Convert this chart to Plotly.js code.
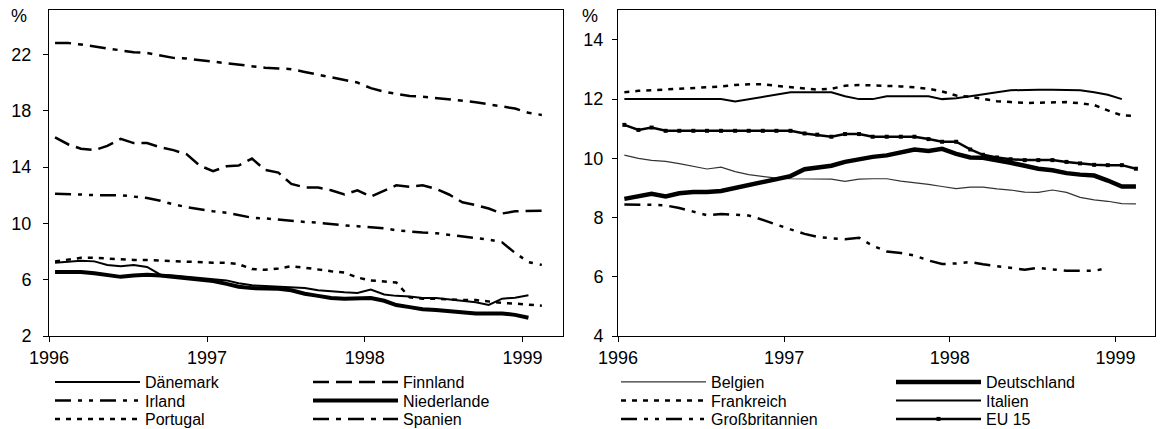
<!DOCTYPE html>
<html>
<head>
<meta charset="utf-8">
<script src="https://cdn.plot.ly/plotly-3.0.1.min.js"></script>
<style>
html, body { margin: 0; padding: 0; background: #ffffff; }
#chart { width: 1160px; height: 429px; }
</style>
</head>
<body>
<div id="chart"></div>
<script>
// Monthly observations, January 1996 to February 1999
const months = ["1996-01","1996-02","1996-03","1996-04","1996-05","1996-06","1996-07","1996-08","1996-09","1996-10","1996-11","1996-12",
  "1997-01","1997-02","1997-03","1997-04","1997-05","1997-06","1997-07","1997-08","1997-09","1997-10","1997-11","1997-12",
  "1998-01","1998-02","1998-03","1998-04","1998-05","1998-06","1998-07","1998-08","1998-09","1998-10","1998-11","1998-12",
  "1999-01","1999-02"];

// Left panel (%)
const daenemark   = [7.2, 7.3, 7.35, 7.3, 7.05, 6.95, 7.05, 6.9, 6.35, 6.3, 6.2, 6.1, 6.05, 5.95, 5.75, 5.6, 5.55, 5.5, 5.5, 5.4, 5.25, 5.15, 5.1, 5.05, 5.3, 4.95, 4.85, 4.8, 4.7, 4.7, 4.6, 4.5, 4.4, 4.2, 4.65, 4.72, 4.9];
const finnland    = [16.1, 15.6, 15.3, 15.2, 15.5, 16.0, 15.7, 15.7, 15.4, 15.2, 14.9, 14.1, 13.7, 14.05, 14.1, 14.6, 13.8, 13.6, 12.8, 12.55, 12.55, 12.35, 12.05, 12.35, 11.9, 12.3, 12.7, 12.6, 12.7, 12.45, 12.05, 11.5, 11.3, 11.05, 10.7, 10.85, 10.9, 10.9];
const irland      = [12.1, 12.1, 12.05, 12.0, 12.0, 12.0, 11.9, 11.8, 11.6, 11.35, 11.15, 11.0, 10.85, 10.75, 10.6, 10.4, 10.35, 10.25, 10.2, 10.1, 10.05, 9.95, 9.85, 9.8, 9.75, 9.65, 9.5, 9.4, 9.35, 9.3, 9.2, 9.1, 9.0, 8.85, 8.65, 7.9, 7.25, 7.05];
const niederlande = [6.55, 6.55, 6.55, 6.45, 6.3, 6.2, 6.3, 6.35, 6.3, 6.2, 6.1, 6.0, 5.9, 5.7, 5.5, 5.4, 5.4, 5.35, 5.25, 5.0, 4.85, 4.7, 4.65, 4.7, 4.7, 4.5, 4.2, 4.05, 3.9, 3.85, 3.75, 3.7, 3.6, 3.6, 3.6, 3.5, 3.3];
const portugal    = [7.3, 7.45, 7.55, 7.55, 7.5, 7.45, 7.4, 7.4, 7.35, 7.3, 7.3, 7.25, 7.2, 7.2, 7.1, 6.75, 6.7, 6.8, 6.95, 6.85, 6.7, 6.6, 6.5, 6.15, 5.95, 5.85, 5.8, 4.75, 4.65, 4.65, 4.6, 4.55, 4.55, 4.45, 4.35, 4.3, 4.25, 4.15];
const spanien     = [22.8, 22.8, 22.7, 22.55, 22.4, 22.25, 22.15, 22.1, 21.9, 21.75, 21.7, 21.6, 21.5, 21.4, 21.3, 21.15, 21.05, 21.0, 20.95, 20.75, 20.55, 20.35, 20.2, 20.0, 19.6, 19.35, 19.2, 19.05, 19.0, 18.9, 18.8, 18.7, 18.6, 18.45, 18.3, 18.15, 17.85, 17.7];

// Right panel (%)
const belgien        = [10.11, 10.0, 9.93, 9.9, 9.82, 9.72, 9.64, 9.7, 9.55, 9.45, 9.38, 9.33, 9.31, 9.31, 9.31, 9.3, 9.22, 9.3, 9.31, 9.31, 9.23, 9.18, 9.12, 9.05, 8.98, 9.03, 9.03, 8.97, 8.93, 8.86, 8.85, 8.93, 8.85, 8.68, 8.6, 8.55, 8.47, 8.46];
const deutschland    = [8.63, 8.72, 8.8, 8.71, 8.82, 8.86, 8.86, 8.9, 9.0, 9.1, 9.2, 9.3, 9.4, 9.63, 9.67, 9.75, 9.88, 9.98, 10.05, 10.1, 10.2, 10.3, 10.25, 10.32, 10.15, 10.03, 10.02, 9.95, 9.85, 9.75, 9.65, 9.6, 9.5, 9.45, 9.42, 9.25, 9.05, 9.05];
const frankreich     = [12.23, 12.28, 12.3, 12.32, 12.34, 12.36, 12.4, 12.43, 12.48, 12.5, 12.5, 12.45, 12.4, 12.35, 12.32, 12.35, 12.45, 12.48, 12.47, 12.45, 12.43, 12.4, 12.35, 12.26, 12.12, 12.08, 12.0, 11.93, 11.9, 11.87, 11.88, 11.9, 11.9, 11.86, 11.8, 11.62, 11.45, 11.43];
const italien        = [12.0, 12.0, 12.0, 12.0, 12.0, 12.0, 12.0, 12.0, 11.92, 12.0, 12.07, 12.15, 12.23, 12.23, 12.23, 12.23, 12.1, 12.0, 12.0, 12.1, 12.1, 12.1, 12.1, 12.0, 12.03, 12.1, 12.15, 12.23, 12.3, 12.32, 12.32, 12.32, 12.32, 12.3, 12.23, 12.15, 12.0];
const grossbritannien= [8.44, 8.44, 8.43, 8.41, 8.32, 8.2, 8.08, 8.12, 8.1, 8.07, 7.92, 7.75, 7.6, 7.45, 7.35, 7.3, 7.27, 7.32, 7.05, 6.85, 6.8, 6.72, 6.55, 6.43, 6.45, 6.5, 6.42, 6.36, 6.3, 6.24, 6.3, 6.24, 6.2, 6.2, 6.2, 6.3];
const eu15           = [11.13, 10.96, 11.04, 10.93, 10.93, 10.93, 10.93, 10.93, 10.93, 10.93, 10.93, 10.93, 10.93, 10.84, 10.8, 10.73, 10.82, 10.82, 10.73, 10.73, 10.73, 10.73, 10.65, 10.56, 10.56, 10.3, 10.12, 10.03, 9.97, 9.94, 9.94, 9.94, 9.88, 9.83, 9.78, 9.77, 9.77, 9.65];

const yearTicks = ["1996", "1997", "1998", "1999"];
const leftYTicks = [2, 6, 10, 14, 18, 22];
const rightYTicks = [4, 6, 8, 10, 12, 14];

const FONT = "Liberation Sans, Arial, Helvetica, sans-serif";
const BLACK = "#000000";
const xs = months.map(m => m + "-15");

function tr(name, vals, axis, legend, line, extra) {
  const t = {
    type: "scatter", mode: "lines", name: name,
    x: xs.slice(0, vals.length), y: vals,
    xaxis: axis === 1 ? "x" : "x2", yaxis: axis === 1 ? "y" : "y2",
    legend: legend,
    line: Object.assign({color: BLACK, shape: "linear"}, line),
    hoverinfo: "skip"
  };
  return Object.assign(t, extra || {});
}

const DASH_LONG = "16px,7px";
const DASH_SHORT = "5px,6px";
const DASH_IRL = "16px,7px,4px,7px,4px,7px";
const DASH_ESP = "16px,7px,5px,7px";

const data = [
  tr("Dänemark", daenemark, 1, "legend", {width: 2}),
  tr("Finnland", finnland, 1, "legend", {width: 2.5, dash: DASH_LONG}),
  tr("Irland", irland, 1, "legend2", {width: 2.5, dash: DASH_IRL}),
  tr("Niederlande", niederlande, 1, "legend2", {width: 4}),
  tr("Portugal", portugal, 1, "legend3", {width: 2.5, dash: DASH_SHORT}),
  tr("Spanien", spanien, 1, "legend3", {width: 2.5, dash: DASH_ESP}),

  tr("Belgien", belgien, 2, "legend4", {width: 1.2, color: "#333333"}),
  tr("Deutschland", deutschland, 2, "legend4", {width: 4.5}),
  tr("Frankreich", frankreich, 2, "legend5", {width: 2.5, dash: DASH_SHORT}),
  tr("Italien", italien, 2, "legend5", {width: 2}),
  tr("Großbritannien", grossbritannien, 2, "legend6", {width: 2.5, dash: DASH_IRL}),
  tr("EU 15", eu15, 2, "legend6", {width: 2.5}, {mode: "lines+markers", marker: {symbol: "square", size: 4, color: BLACK}})
];

const W = 1160, H = 429, T = 10, B = 93;
const plotH = H - T - B;
function py(p) { return (H - B - p) / plotH; }

const axisCommon = {
  showline: true, linecolor: BLACK, linewidth: 1, mirror: true,
  showgrid: false, zeroline: false,
  ticks: "outside", ticklen: 5, tickwidth: 1, tickcolor: BLACK,
  tickfont: {family: FONT, size: 18, color: BLACK}
};

function legendAt(xpx, ypx, ew) {
  return {
    orientation: "h", x: xpx / W, xanchor: "left", y: py(ypx), yanchor: "middle",
    bgcolor: "rgba(0,0,0,0)", borderwidth: 0,
    font: {family: FONT, size: 16, color: BLACK},
    itemwidth: 85, entrywidth: ew, entrywidthmode: "pixels",
    traceorder: "normal", itemclick: false, itemdoubleclick: false
  };
}

const layout = {
  width: W, height: H,
  margin: {l: 0, r: 0, t: T, b: B, pad: 0, autoexpand: false},
  paper_bgcolor: "#ffffff", plot_bgcolor: "#ffffff",
  font: {family: FONT, size: 18, color: BLACK},
  showlegend: true,
  xaxis: Object.assign({}, axisCommon, {
    domain: [49 / W, 563 / W], type: "date",
    range: ["1996-01-01", "1999-04-05"],
    tickvals: yearTicks.map(y => y + "-01-01"), ticktext: yearTicks, anchor: "y",
    ticklabelstandoff: 0
  }),
  yaxis: Object.assign({}, axisCommon, {
    range: [2, 25.15], tickvals: leftYTicks, anchor: "x", ticklabelstandoff: 8
  }),
  xaxis2: Object.assign({}, axisCommon, {
    domain: [618 / W, 1155 / W], type: "date",
    range: ["1996-01-01", "1999-03-29"],
    tickvals: yearTicks.map(y => y + "-01-01"), ticktext: yearTicks, anchor: "y2",
    ticklabelstandoff: 0
  }),
  yaxis2: Object.assign({}, axisCommon, {
    range: [4, 15.01], tickvals: rightYTicks, anchor: "x2", ticklabelstandoff: 5
  }),
  legend: legendAt(50, 382, 158),
  legend2: legendAt(50, 400.5, 158),
  legend3: legendAt(50, 419, 158),
  legend4: legendAt(616, 382, 175),
  legend5: legendAt(616, 400.5, 175),
  legend6: legendAt(616, 419, 175),
  annotations: [
    {text: "%", xref: "paper", yref: "paper", x: 19 / W, y: py(16), xanchor: "center", yanchor: "middle", showarrow: false, font: {family: FONT, size: 18, color: BLACK}},
    {text: "%", xref: "paper", yref: "paper", x: 590 / W, y: py(16), xanchor: "center", yanchor: "middle", showarrow: false, font: {family: FONT, size: 18, color: BLACK}}
  ]
};

Plotly.newPlot("chart", data, layout, {staticPlot: true, displayModeBar: false});
</script>
</body>
</html>
